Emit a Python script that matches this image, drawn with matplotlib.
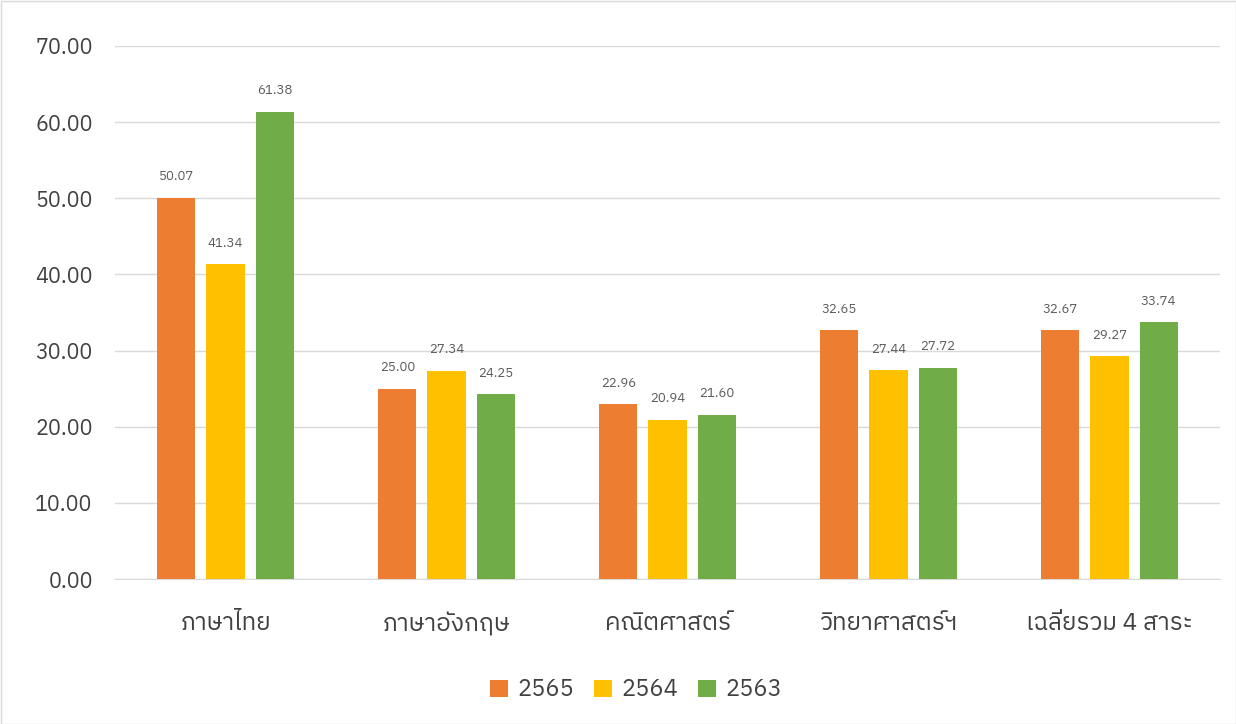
import matplotlib
matplotlib.use("Agg")
import matplotlib.pyplot as plt
import numpy as np
from matplotlib import font_manager

categories = ["ภาษาไทย", "ภาษาอังกฤษ", "คณิตศาสตร์", "วิทยาศาสตร์ฯ", "เฉลี่ยรวม 4 สาระ"]
series_names = ["2565", "2564", "2563"]
v2565 = [50.07, 25.00, 22.96, 32.65, 32.67]
v2564 = [41.34, 27.34, 20.94, 27.44, 29.27]
v2563 = [61.38, 24.25, 21.60, 27.72, 33.74]
yticks = [0, 10, 20, 30, 40, 50, 60, 70]

names = sorted({f.name for f in font_manager.fontManager.ttflist})
thai = [n for n in names if "Thai" in n or "Sarabun" in n or "Garuda" in n or "Loma" in n or "Kinnari" in n]
fams = thai + ["DejaVu Sans", "Noto Sans"]
plt.rcParams['font.family'] = fams

colors = ["#ED7D31", "#FFC000", "#70AD47"]
fig = plt.figure(figsize=(12.36, 7.24), dpi=100)
ax = fig.add_axes([115/1236, 1-579/724, 1105/1236, 533/724])
x = np.arange(len(categories))
w = 0.172
stride = 0.222
for i, (vals, c, n) in enumerate(zip([v2565, v2564, v2563], colors, series_names)):
    xs = x + (i - 1) * stride
    ax.bar(xs, vals, width=w, color=c, label=n, zorder=3)
    for xx, v in zip(xs, vals):
        ax.text(xx, v + 1.9, f"{v:.2f}", ha="center", va="bottom", fontsize=9.5, color="#595959")
ax.set_xlim(-0.5, len(categories) - 0.5)
ax.set_ylim(0, 70)
ax.set_yticks(yticks)
ax.set_yticklabels([f"{t:.2f}" for t in yticks], fontsize=15.5, color="#404040")
ax.set_xticks(x)
ax.set_xticklabels(categories, fontsize=17.5, color="#404040")
ax.tick_params(axis="both", length=0)
ax.tick_params(axis="y", pad=16)
ax.tick_params(axis="x", pad=24)
ax.grid(axis="y", color="#D9D9D9", linewidth=1, zorder=0)
for s in ["top", "right", "left"]:
    ax.spines[s].set_visible(False)
ax.spines["bottom"].set_color("#D9D9D9")
leg = fig.legend(loc="center", bbox_to_anchor=(636/1236, 1 - 690/724), ncol=3, frameon=False,
                 fontsize=17, handlelength=0.75, handleheight=0.75, columnspacing=0.85, handletextpad=0.4)
for t in leg.get_texts():
    t.set_color("#404040")
fig.patches.append(plt.Rectangle((0.5/1236, 0.5/724), 1-1/1236, 1-1/724, transform=fig.transFigure,
                                 fill=False, edgecolor="#D9D9D9", linewidth=1))
fig.savefig("out.png", dpi=100)
